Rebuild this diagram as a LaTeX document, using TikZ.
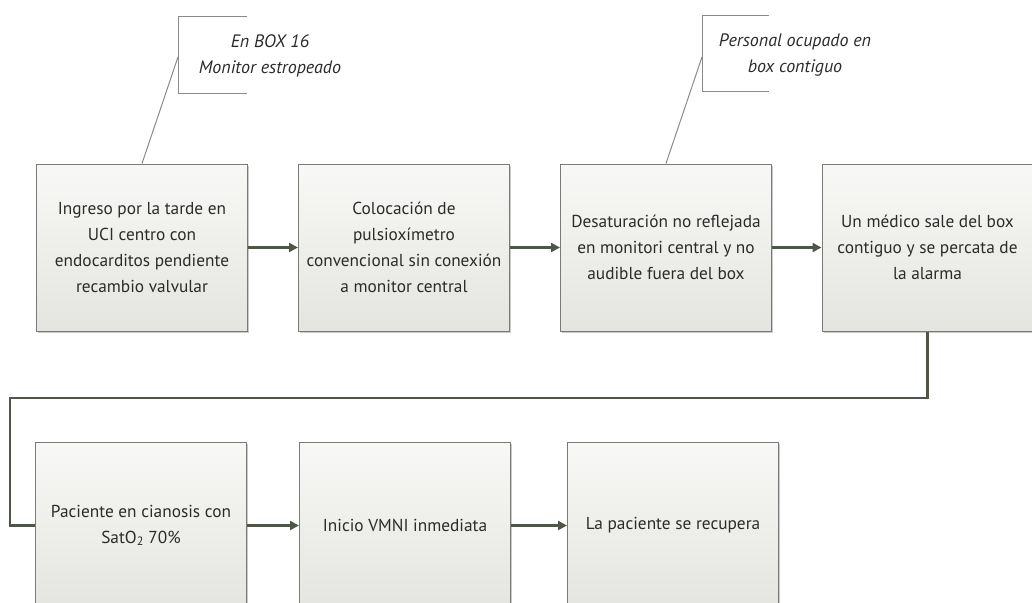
\documentclass[tikz,border=0pt]{standalone}
\usepackage{fontspec}
\setmainfont{PT Sans}
\usetikzlibrary{arrows.meta,shadows}
\definecolor{boxline}{HTML}{7A7A78}
\definecolor{boxtop}{HTML}{F8F8F6}
\definecolor{boxbot}{HTML}{E4E4E0}
\definecolor{conncol}{HTML}{4E564A}
\definecolor{txt}{HTML}{2B2B2B}
\definecolor{callcol}{HTML}{8A8A8A}
\tikzset{
  stepbox/.style={draw=boxline, line width=1pt, top color=boxtop, bottom color=boxbot,
    minimum width=211pt, minimum height=167pt, inner sep=0pt, align=center,
    text=txt, font=\fontsize{17.3}{26}\selectfont,
    drop shadow={shadow xshift=1.5pt, shadow yshift=-1.5pt, opacity=0.35, fill=black!60}},
  conn/.style={draw=conncol, line width=2.2pt, -{Triangle[length=9pt,width=9pt]}},
  connplain/.style={draw=conncol, line width=2.2pt},
  calltext/.style={text=txt, font=\fontsize{18}{26.5}\selectfont\itshape, align=center, inner sep=0pt},
  callline/.style={draw=callcol, line width=1pt}
}
\begin{document}
\begin{tikzpicture}[x=1pt,y=-1pt]
\useasboundingbox (0,0) rectangle (1032,602);
\clip (0,0) rectangle (1032,602);
% top row
\node[stepbox] (b1) at (142,247.5) {Ingreso por la tarde en\\UCI centro con\\endocarditos pendiente\\recambio valvular};
\node[stepbox] (b2) at (404,247.5) {Colocación de\\pulsioxímetro\\convencional sin conexión\\a monitor central};
\node[stepbox] (b3) at (666,247.5) {Desaturación no reflejada\\en monitori central y no\\audible fuera del box};
\node[stepbox] (b4) at (927.5,247.5) {Un médico sale del box\\contiguo y se percata de\\la alarma};
% bottom row
\node[stepbox] (d1) at (141,525.5) {Paciente en cianosis con\\SatO\textsubscript{2} 70\%};
\node[stepbox] (d2) at (405,525.5) {Inicio VMNI inmediata};
\node[stepbox] (d3) at (673,525.5) {La paciente se recupera};
% connectors
\draw[conn] (b1.east) -- (b2.west);
\draw[conn] (b2.east) -- (b3.west);
\draw[conn] (b3.east) -- (b4.west);
\coordinate (k1) at (10,398);
\draw[connplain] (b4.south) |- (k1) |- (d1.west);
\draw[conn] (d1.east) -- (d2.west);
\draw[conn] (d2.east) -- (d3.west);
% callout 1
\coordinate (c1t) at (247,17);
\coordinate (c1tl) at (178,17);
\coordinate (c1bl) at (178,93);
\coordinate (c1b) at (247,93);
\coordinate (c1a) at (178,57);
\draw[callline] (c1t) -- (c1tl) -- (c1bl) -- (c1b);
\draw[callline] (c1a) -- (b1.north);
\node[calltext] (t1) at (270,56) {En BOX 16\\Monitor estropeado};
% callout 2
\coordinate (c2t) at (769,16);
\coordinate (c2tl) at (702,16);
\coordinate (c2bl) at (702,91);
\coordinate (c2b) at (769,91);
\coordinate (c2a) at (702,57);
\draw[callline] (c2t) -- (c2tl) -- (c2bl) -- (c2b);
\draw[callline] (c2a) -- (b3.north);
\node[calltext] (t2) at (795,55) {Personal ocupado en\\box contiguo};
\end{tikzpicture}
\end{document}
